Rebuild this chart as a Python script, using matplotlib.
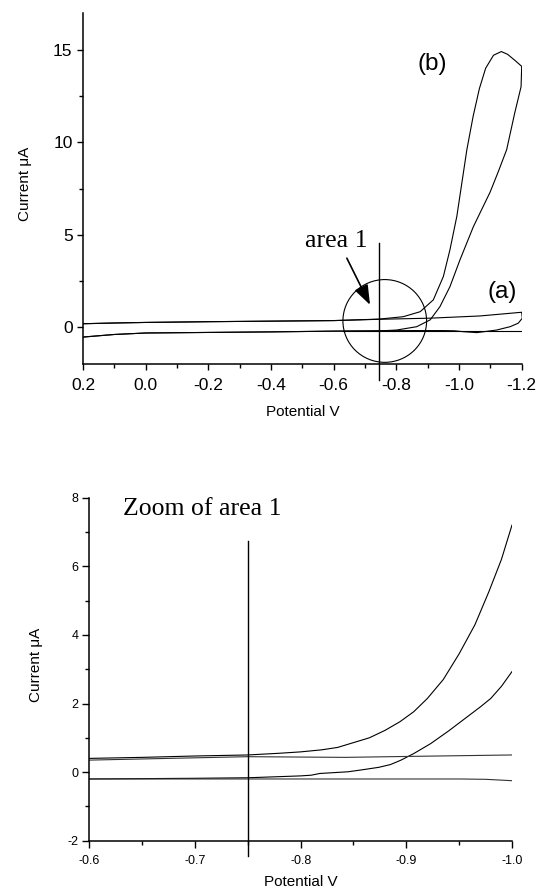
import numpy as np
import matplotlib
matplotlib.use("Agg")
import matplotlib.pyplot as plt
from matplotlib.patches import Ellipse
from matplotlib.ticker import MultipleLocator, FormatStrFormatter

plt.rcParams['font.family'] = ['Liberation Sans', 'DejaVu Sans']
plt.rcParams['axes.unicode_minus'] = False

# ---- full scan (top panel) ----
# curve (a): blank, closed loop
top_a_v = [0.2, 0.1, 0.0, -0.2, -0.4, -0.6, -0.745, -0.907, -1.067, -1.2,
           -1.202, -1.189, -1.163, -1.12, -1.057, -1.014, -0.985, -0.95, -0.85, -0.75,
           -0.6, -0.4, -0.2, 0.0, 0.1, 0.2]
top_a_i = [0.20, 0.24, 0.27, 0.31, 0.34, 0.37, 0.44, 0.50, 0.62, 0.82,
           0.5, 0.23, 0.04, -0.14, -0.28, -0.23, -0.18, -0.17, -0.17, -0.18,
           -0.2, -0.24, -0.27, -0.3, -0.38, -0.52]
# curve (b): with analyte, closed loop
top_b_v = [0.2, 0.1, 0.0, -0.2, -0.4, -0.6, -0.745, -0.822, -0.876, -0.918, -0.95, -0.971,
           -0.993, -1.009, -1.025, -1.045, -1.065, -1.085, -1.11, -1.135, -1.155, -1.18, -1.2,
           -1.198, -1.178, -1.152, -1.125, -1.099, -1.046, -1.003, -0.971, -0.939, -0.908,
           -0.865, -0.801, -0.745, -0.6, -0.4, -0.2, 0.0, 0.1, 0.2]
top_b_i = [0.20, 0.24, 0.27, 0.31, 0.34, 0.37, 0.45, 0.58, 0.85, 1.49, 2.75, 4.19,
           6.0, 7.8, 9.6, 11.4, 12.9, 14.0, 14.7, 14.9, 14.75, 14.4, 14.1,
           13.0, 11.6, 9.6, 8.4, 7.3, 5.45, 3.65, 2.2, 1.12, 0.41,
           0.04, -0.14, -0.19, -0.2, -0.24, -0.27, -0.3, -0.38, -0.52]
# cross-hair marking area 1
top_vline_v = [-0.745, -0.745]
top_vline_i = [-2.84, 4.55]
top_hline_v = [-0.63, -1.2]
top_hline_i = [-0.18, -0.18]
circle_center = (-0.763, 0.35)
circle_size = (0.267, 4.47)
arrow_from = (-0.642, 3.74)
arrow_to = (-0.716, 1.22)

# ---- zoom of area 1 (bottom panel) ----
zoom_b_fwd_v = [-0.6, -0.65, -0.7, -0.75, -0.78, -0.8, -0.82, -0.835, -0.85, -0.865, -0.88,
                -0.894, -0.907, -0.92, -0.935, -0.95, -0.965, -0.978, -0.99, -1.0]
zoom_b_fwd_i = [0.40, 0.43, 0.47, 0.50, 0.55, 0.59, 0.65, 0.72, 0.86, 1.0, 1.22,
                1.47, 1.76, 2.15, 2.7, 3.45, 4.3, 5.25, 6.2, 7.2]
zoom_b_rev_v = [-0.6, -0.7, -0.75, -0.8, -0.81, -0.818, -0.845, -0.861, -0.874, -0.885,
                -0.895, -0.907, -0.923, -0.94, -0.955, -0.97, -0.98, -0.99, -1.0]
zoom_b_rev_i = [-0.20, -0.18, -0.165, -0.11, -0.09, -0.04, 0.01, 0.08, 0.14, 0.22,
                0.35, 0.54, 0.83, 1.2, 1.55, 1.9, 2.15, 2.5, 2.93]
zoom_a_fwd_v = [-0.6, -0.75, -0.842, -0.907, -1.0]
zoom_a_fwd_i = [0.35, 0.45, 0.43, 0.46, 0.50]
zoom_a_rev_v = [-0.6, -0.95, -0.975, -1.0]
zoom_a_rev_i = [-0.2, -0.2, -0.21, -0.25]
zoom_vline_v = [-0.75, -0.75]
zoom_vline_i = [-2.44, 6.73]

serif = ['Liberation Serif', 'DejaVu Serif']
lw = 0.8

fig = plt.figure(figsize=(5.4, 8.92), dpi=100)

# top panel
ax1 = fig.add_axes([0.1537, 0.5914, 0.8124, 0.3944])
ax1.plot(top_a_v, top_a_i, color='black', lw=lw)
ax1.plot(top_b_v, top_b_i, color='black', lw=lw)
ax1.plot(top_hline_v, top_hline_i, color='black', lw=lw)
ax1.plot(top_vline_v, top_vline_i, color='black', lw=1.0, clip_on=False)
ax1.add_patch(Ellipse(circle_center, circle_size[0], circle_size[1],
                      fill=False, edgecolor='black', lw=lw))
ax1.annotate('', xy=arrow_to, xytext=arrow_from,
             arrowprops=dict(arrowstyle='-|>,head_length=0.6,head_width=0.22',
                             color='black', lw=1.2, mutation_scale=20,
                             shrinkA=0, shrinkB=0))
ax1.text(-0.7065, 4.33, 'area 1', family=serif, fontsize=18.5, ha='right', va='baseline')
ax1.text(-0.9155, 14.25, '(b)', fontsize=17.5, ha='center', va='center')
ax1.text(-1.139, 1.9, '(a)', fontsize=17.5, ha='center', va='center')

ax1.set_xlim(0.2, -1.2)
ax1.set_ylim(-2, 17)
ax1.xaxis.set_major_locator(MultipleLocator(0.2))
ax1.xaxis.set_minor_locator(MultipleLocator(0.1))
ax1.xaxis.set_major_formatter(FormatStrFormatter('%.1f'))
ax1.yaxis.set_major_locator(MultipleLocator(5))
ax1.yaxis.set_minor_locator(MultipleLocator(2.5))
ax1.tick_params(which='major', direction='out', length=4.5, width=1, labelsize=12.5, pad=3)
ax1.tick_params(which='minor', direction='out', length=3, width=1)
ax1.tick_params(axis='x', which='major', pad=5)
ax1.set_xlabel('Potential V', fontsize=11)
ax1.set_ylabel('Current μA', fontsize=11)
ax1.xaxis.set_label_coords(0.5, -0.115)
ax1.yaxis.set_label_coords(-0.116, 0.513)

# bottom panel
ax2 = fig.add_axes([0.1654, 0.0575, 0.7827, 0.3845])
ax2.plot(zoom_b_fwd_v, zoom_b_fwd_i, color='black', lw=lw)
ax2.plot(zoom_b_rev_v, zoom_b_rev_i, color='black', lw=lw)
ax2.plot(zoom_a_fwd_v, zoom_a_fwd_i, color='#333333', lw=lw)
ax2.plot(zoom_a_rev_v, zoom_a_rev_i, color='#333333', lw=lw)
ax2.plot(zoom_vline_v, zoom_vline_i, color='black', lw=1.0, clip_on=False)
ax2.text(-0.6315, 7.5, 'Zoom of area 1', family=serif, fontsize=18.5, ha='left', va='baseline')

ax2.set_xlim(-0.6, -1.0)
ax2.set_ylim(-2, 8)
ax2.xaxis.set_major_locator(MultipleLocator(0.1))
ax2.xaxis.set_minor_locator(MultipleLocator(0.05))
ax2.xaxis.set_major_formatter(FormatStrFormatter('%.1f'))
ax2.yaxis.set_major_locator(MultipleLocator(2))
ax2.yaxis.set_minor_locator(MultipleLocator(1))
ax2.tick_params(which='major', direction='out', length=5, width=1, labelsize=9, pad=3)
ax2.tick_params(which='minor', direction='out', length=3, width=1)
ax2.tick_params(axis='x', which='major', pad=5)
ax2.set_xlabel('Potential V', fontsize=11)
ax2.set_ylabel('Current μA', fontsize=11)
ax2.xaxis.set_label_coords(0.5, -0.1)
ax2.yaxis.set_label_coords(-0.1095, 0.512)

for ax in (ax1, ax2):
    ax.spines['top'].set_visible(False)
    ax.spines['right'].set_visible(False)
    ax.spines['left'].set_linewidth(1.1)
    ax.spines['bottom'].set_linewidth(1.1)

fig.savefig('out.png', dpi=100)
